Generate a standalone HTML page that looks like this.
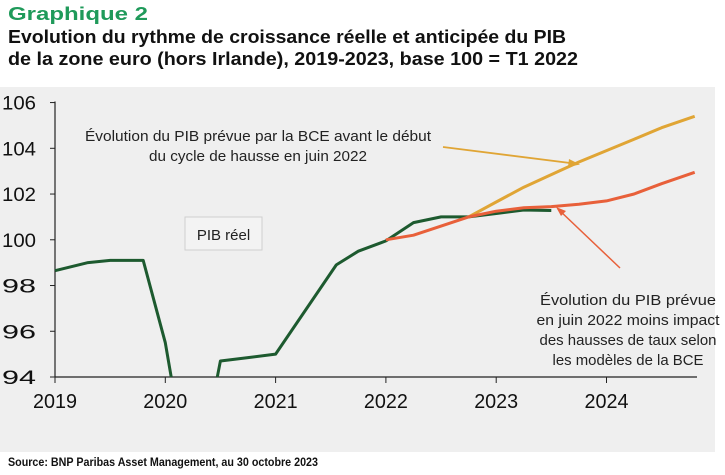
<!DOCTYPE html>
<html><head><meta charset="utf-8"><style>
html,body{margin:0;padding:0;background:#fff;width:725px;height:475px;overflow:hidden;}
svg{display:block;font-family:"Liberation Sans",sans-serif;}
</style></head><body>
<svg id="chart" width="725" height="475" viewBox="0 0 725 475">
<rect x="0" y="87" width="715" height="365" fill="#efefef"/>
<text x="8" y="20" font-size="18" font-weight="bold" fill="#1f9a5a" textLength="140" lengthAdjust="spacingAndGlyphs">Graphique 2</text>
<text x="8" y="43" font-size="18" font-weight="bold" fill="#111" textLength="558" lengthAdjust="spacingAndGlyphs">Evolution du rythme de croissance réelle et anticipée du PIB</text>
<text x="8" y="65" font-size="18" font-weight="bold" fill="#111" textLength="570" lengthAdjust="spacingAndGlyphs">de la zone euro (hors Irlande), 2019-2023, base 100 = T1 2022</text>
<g id="axes"></g>
<g id="series"></g>
<rect x="185" y="217" width="77" height="33" fill="#f3f3f3" stroke="#cfcfcf"/>
<text x="223.5" y="240" font-size="15" text-anchor="middle" fill="#222">PIB réel</text>
<g font-size="14.5" fill="#222" text-anchor="middle">
<text x="258" y="141" textLength="346" lengthAdjust="spacingAndGlyphs">Évolution du PIB prévue par la BCE avant le début</text>
<text x="258" y="161" textLength="218" lengthAdjust="spacingAndGlyphs">du cycle de hausse en juin 2022</text>
</g>
<g font-size="14.5" fill="#222" text-anchor="middle">
<text x="628" y="305" textLength="176" lengthAdjust="spacingAndGlyphs">Évolution du PIB prévue</text>
<text x="628" y="325" textLength="183" lengthAdjust="spacingAndGlyphs">en juin 2022 moins impact</text>
<text x="628" y="345" textLength="177" lengthAdjust="spacingAndGlyphs">des hausses de taux selon</text>
<text x="628" y="365" textLength="151" lengthAdjust="spacingAndGlyphs">les modèles de la BCE</text>
</g>
<line x1="443" y1="147" x2="578" y2="164" stroke="#e0a535" stroke-width="1.8"/>
<polygon points="580,164.5 569,159 568,167" fill="#e0a535"/>
<line x1="620" y1="268" x2="558" y2="209" stroke="#e8603a" stroke-width="1.5"/>
<polygon points="556,207 566,211 561,216" fill="#e8603a"/>
<text x="8" y="466" font-size="12" font-weight="bold" fill="#111" textLength="310" lengthAdjust="spacingAndGlyphs">Source: BNP Paribas Asset Management, au 30 octobre 2023</text>
</svg>
<script>
const yTicks = [94, 96, 98, 100, 102, 104, 106];
const xTicks = [2019, 2020, 2021, 2022, 2023, 2024];
const greenT = [2019.0, 2019.3, 2019.5, 2019.8, 2020.0, 2020.25, 2020.5, 2020.75, 2021.0, 2021.55, 2021.75, 2022.0, 2022.25, 2022.5, 2022.75, 2023.0, 2023.25, 2023.5];
const greenV = [98.65, 99.0, 99.1, 99.1, 95.5, 88.5, 94.7, 94.85, 95.0, 98.9, 99.5, 99.95, 100.75, 101.0, 101.0, 101.15, 101.3, 101.28];
const bceT = [2022.75, 2023.0, 2023.25, 2023.5, 2023.75, 2024.0, 2024.25, 2024.5, 2024.8];
const bceV = [101.0, 101.65, 102.3, 102.85, 103.4, 103.9, 104.4, 104.9, 105.4];
const redT = [2022.0, 2022.25, 2022.5, 2022.75, 2023.0, 2023.25, 2023.5, 2023.75, 2024.0, 2024.25, 2024.5, 2024.8];
const redV = [100.0, 100.2, 100.6, 101.0, 101.25, 101.4, 101.45, 101.55, 101.7, 102.0, 102.45, 102.95];

const NS = "http://www.w3.org/2000/svg";
const X0 = 55, XR = 110.3, Y0 = 377, YR = 22.87, YMIN = 94;
const x = t => X0 + (t - 2019) * XR;
const y = v => Y0 - (v - YMIN) * YR;
const axes = document.getElementById('axes');
const series = document.getElementById('series');
function mk(tag, attrs, parent) {
  const e = document.createElementNS(NS, tag);
  for (const k in attrs) e.setAttribute(k, attrs[k]);
  parent.appendChild(e);
  return e;
}
const ya = mk('line', {x1: X0, y1: y(106) - 1, x2: X0, y2: Y0, stroke: '#222', 'stroke-width': 1.2}, axes);


const xa = mk('line', {x1: X0, y1: Y0, x2: 697, y2: Y0, stroke: '#222', 'stroke-width': 1.2}, axes);


yTicks.forEach(v => {
  const tk = mk('line', {x1: X0 - 5, y1: y(v), x2: X0, y2: y(v), stroke: '#222'}, axes);
  
  
  const t = mk('text', {x: 2, y: y(v) + 7, 'font-size': 19, fill: '#111', textLength: 34, lengthAdjust: 'spacingAndGlyphs'}, axes);
  t.textContent = v;
  
  
});
xTicks.forEach(v => {
  const tk = mk('line', {x1: x(v), y1: Y0, x2: x(v), y2: Y0 + 6, stroke: '#222'}, axes);
  
  
  const t = mk('text', {x: x(v), y: Y0 + 31, 'font-size': 20, fill: '#111', 'text-anchor': 'middle', textLength: 44, lengthAdjust: 'spacingAndGlyphs'}, axes);
  t.textContent = v;
  
  
});
// build path clipped at the YMIN floor (segments below the axis are cut at the crossing)
function clippedPath(ts, vs) {
  let d = '', pen = false;
  for (let i = 0; i < ts.length; i++) {
    const inside = vs[i] >= YMIN;
    if (i > 0) {
      const a = vs[i - 1] >= YMIN;
      if (a !== inside) {
        const f = (YMIN - vs[i - 1]) / (vs[i] - vs[i - 1]);
        const tc = ts[i - 1] + f * (ts[i] - ts[i - 1]);
        d += (pen ? 'L' : 'M') + x(tc).toFixed(1) + ',' + y(YMIN).toFixed(1) + ' ';
        pen = !a;
      }
    }
    if (inside) {
      d += (pen ? 'L' : 'M') + x(ts[i]).toFixed(1) + ',' + y(vs[i]).toFixed(1) + ' ';
      pen = true;
    } else {
      pen = false;
    }
  }
  return d.trim();
}
function line(ts, vs, color, w) {
  return mk('path', {d: clippedPath(ts, vs), fill: 'none', stroke: color, 'stroke-width': w, 'stroke-linejoin': 'round'}, series);
}
const g = line(greenT, greenV, '#1d5a2f', 3);


const b = line(bceT, bceV, '#e0a535', 3);


const r = line(redT, redV, '#e8603a', 3);


</script>
</body></html>
